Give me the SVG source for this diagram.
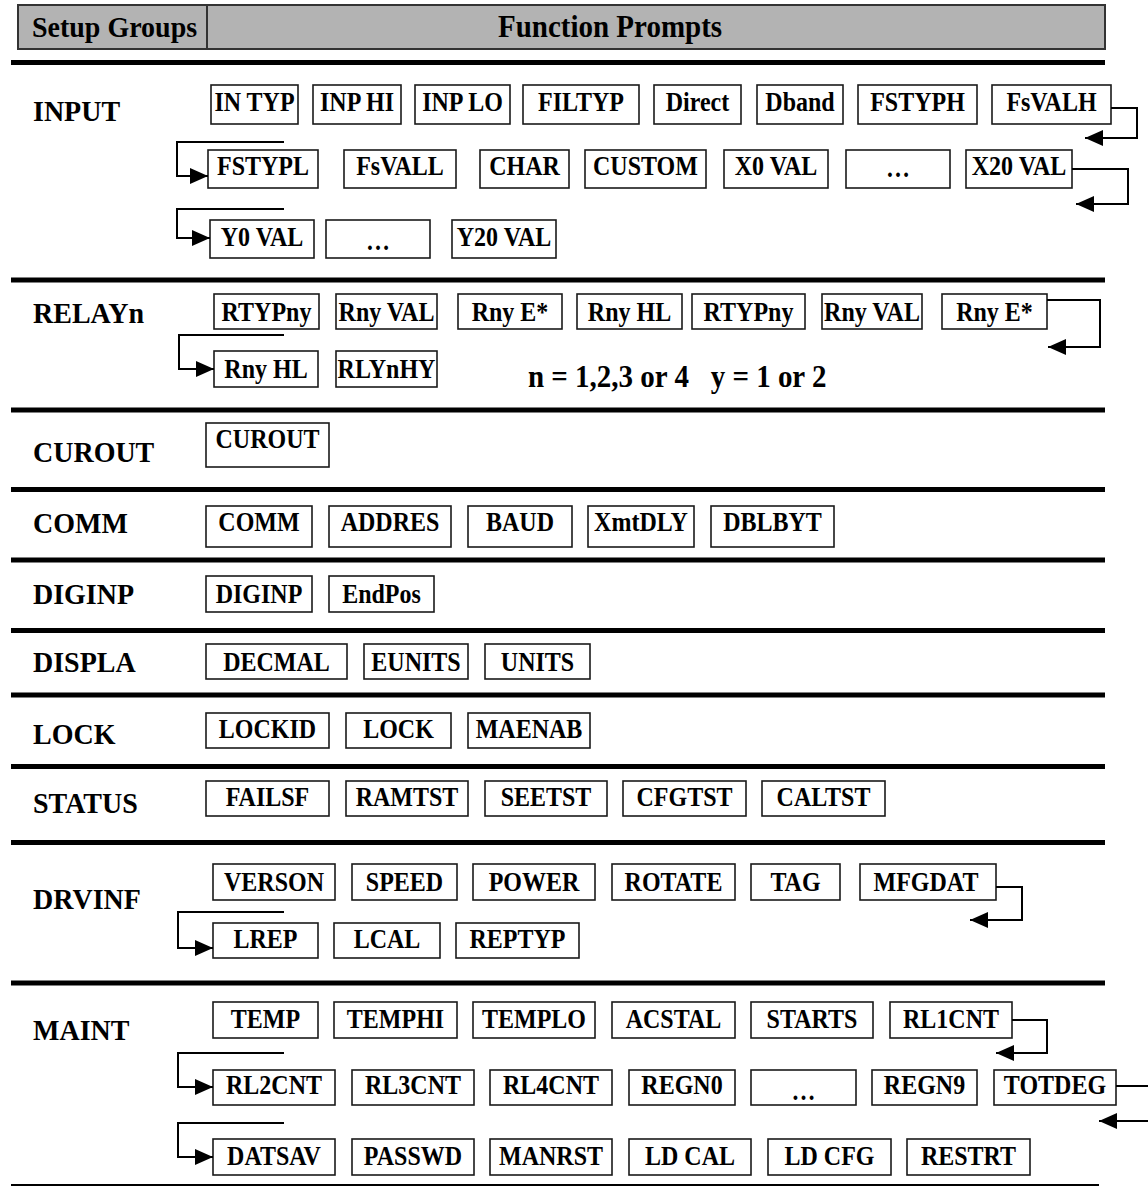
<svg xmlns="http://www.w3.org/2000/svg" width="1148" height="1188" viewBox="0 0 1148 1188">
<style>
.bg{fill:#fff}
.hdr{fill:#b3b3b3;stroke:#333;stroke-width:2}
.box{fill:#fff;stroke:#1a1a1a;stroke-width:1.6}
.bt{font-family:"Liberation Serif","Times New Roman",serif;font-weight:bold;font-size:24px;text-anchor:middle;fill:#000;transform-box:fill-box;transform-origin:50% 50%;transform:scaleY(1.15)}
.gl{font-family:"Liberation Serif","Times New Roman",serif;font-weight:bold;font-size:28px;fill:#000;transform-box:fill-box;transform-origin:50% 50%;transform:scaleY(1.07)}
.sep{stroke:#000;stroke-width:5}
.conn{fill:none;stroke:#000;stroke-width:2}
</style>
<defs>
<marker id="ah" markerUnits="userSpaceOnUse" markerWidth="18" markerHeight="16" refX="18" refY="8" orient="auto">
<path d="M0,0 L18,8 L0,16 Z" fill="#000"/>
</marker>
</defs>
<rect class="bg" x="0" y="0" width="1148" height="1188"/>

<g id="header">
<rect class="hdr" x="18" y="5" width="1087" height="44"/>
<line x1="207" y1="5" x2="207" y2="49" stroke="#333" stroke-width="2"/>
<text class="gl" x="32" y="36">Setup Groups</text>
<text class="gl" x="498" y="36" style="font-size:29px">Function Prompts</text>
</g>

<g id="separators">
<line class="sep" x1="11" y1="62.5" x2="1105" y2="62.5"/>
<line class="sep" x1="11" y1="280" x2="1105" y2="280"/>
<line class="sep" x1="11" y1="410" x2="1105" y2="410"/>
<line class="sep" x1="11" y1="489.5" x2="1105" y2="489.5"/>
<line class="sep" x1="11" y1="560" x2="1105" y2="560"/>
<line class="sep" x1="11" y1="630.5" x2="1105" y2="630.5"/>
<line class="sep" x1="11" y1="695" x2="1105" y2="695"/>
<line class="sep" x1="11" y1="766.5" x2="1105" y2="766.5"/>
<line class="sep" x1="11" y1="842.5" x2="1105" y2="842.5"/>
<line class="sep" x1="11" y1="983" x2="1105" y2="983"/>
<line x1="11" y1="1185" x2="1099" y2="1185" stroke="#000" stroke-width="2"/>
</g>

<g id="group-labels">
<text class="gl" x="33" y="120">INPUT</text>
<text class="gl" x="33" y="322">RELAYn</text>
<text class="gl" x="33" y="461">CUROUT</text>
<text class="gl" x="33" y="532">COMM</text>
<text class="gl" x="33" y="603">DIGINP</text>
<text class="gl" x="33" y="671">DISPLA</text>
<text class="gl" x="33" y="743">LOCK</text>
<text class="gl" x="33" y="812">STATUS</text>
<text class="gl" x="33" y="908">DRVINF</text>
<text class="gl" x="33" y="1039">MAINT</text>
</g>

<text id="note" class="gl" x="528" y="386" style="white-space:pre;font-size:29px">n = 1,2,3 or 4   y = 1 or 2</text>

<!-- INPUT -->
<g id="n-intyp"><rect class="box" x="211" y="85" width="87" height="39"/><text class="bt" x="254.5" y="110">IN TYP</text></g>
<g id="n-inphi"><rect class="box" x="313" y="85" width="88" height="39"/><text class="bt" x="357" y="110">INP HI</text></g>
<g id="n-inplo"><rect class="box" x="415" y="85" width="95" height="39"/><text class="bt" x="462.5" y="110">INP LO</text></g>
<g id="n-filtyp"><rect class="box" x="523" y="85" width="116" height="39"/><text class="bt" x="581" y="110">FILTYP</text></g>
<g id="n-direct"><rect class="box" x="654" y="85" width="87" height="39"/><text class="bt" x="697.5" y="110">Direct</text></g>
<g id="n-dband"><rect class="box" x="757" y="85" width="86" height="39"/><text class="bt" x="800" y="110">Dband</text></g>
<g id="n-fstyph"><rect class="box" x="858" y="85" width="119" height="39"/><text class="bt" x="917.5" y="110">FSTYPH</text></g>
<g id="n-fsvalh"><rect class="box" x="992" y="85" width="119" height="39"/><text class="bt" x="1051.5" y="110">FsVALH</text></g>

<g id="n-fstypl"><rect class="box" x="208" y="150" width="110" height="38"/><text class="bt" x="263" y="174">FSTYPL</text></g>
<g id="n-fsvall"><rect class="box" x="344" y="150" width="112" height="38"/><text class="bt" x="400" y="174">FsVALL</text></g>
<g id="n-char"><rect class="box" x="480" y="150" width="89" height="38"/><text class="bt" x="524.5" y="174">CHAR</text></g>
<g id="n-custom"><rect class="box" x="585" y="150" width="121" height="38"/><text class="bt" x="645.5" y="174">CUSTOM</text></g>
<g id="n-x0val"><rect class="box" x="724" y="150" width="104" height="38"/><text class="bt" x="776" y="174">X0 VAL</text></g>
<g id="n-xdots"><rect class="box" x="846" y="150" width="104" height="38"/><text class="bt" x="898" y="176">…</text></g>
<g id="n-x20val"><rect class="box" x="966" y="150" width="106" height="38"/><text class="bt" x="1019" y="174">X20 VAL</text></g>

<g id="n-y0val"><rect class="box" x="210" y="220" width="104" height="38"/><text class="bt" x="262" y="245">Y0 VAL</text></g>
<g id="n-ydots"><rect class="box" x="326" y="220" width="104" height="38"/><text class="bt" x="378" y="249">…</text></g>
<g id="n-y20val"><rect class="box" x="452" y="220" width="104" height="38"/><text class="bt" x="504" y="245">Y20 VAL</text></g>

<!-- RELAYn -->
<g id="n-rtyp1"><rect class="box" x="214" y="294" width="105" height="35"/><text class="bt" x="266.5" y="320">RTYPny</text></g>
<g id="n-rval1"><rect class="box" x="336" y="294" width="101" height="35"/><text class="bt" x="386.5" y="320">Rny VAL</text></g>
<g id="n-re1"><rect class="box" x="458" y="294" width="104" height="35"/><text class="bt" x="510" y="320">Rny E*</text></g>
<g id="n-rhl1"><rect class="box" x="577" y="294" width="105" height="35"/><text class="bt" x="629.5" y="320">Rny HL</text></g>
<g id="n-rtyp2"><rect class="box" x="692" y="294" width="113" height="35"/><text class="bt" x="748.5" y="320">RTYPny</text></g>
<g id="n-rval2"><rect class="box" x="822" y="294" width="100" height="35"/><text class="bt" x="872" y="320">Rny VAL</text></g>
<g id="n-re2"><rect class="box" x="942" y="294" width="105" height="35"/><text class="bt" x="994.5" y="320">Rny E*</text></g>
<g id="n-rhl2"><rect class="box" x="214" y="351" width="104" height="36"/><text class="bt" x="266" y="377">Rny HL</text></g>
<g id="n-rlynhy"><rect class="box" x="336" y="351" width="101" height="36"/><text class="bt" x="386.5" y="377">RLYnHY</text></g>

<!-- CUROUT -->
<g id="n-curout"><rect class="box" x="206" y="423" width="123" height="44"/><text class="bt" x="267.5" y="447">CUROUT</text></g>

<!-- COMM -->
<g id="n-comm"><rect class="box" x="206" y="506" width="106" height="41"/><text class="bt" x="259" y="530">COMM</text></g>
<g id="n-addres"><rect class="box" x="329" y="506" width="122" height="41"/><text class="bt" x="390" y="530">ADDRES</text></g>
<g id="n-baud"><rect class="box" x="468" y="506" width="104" height="41"/><text class="bt" x="520" y="530">BAUD</text></g>
<g id="n-xmtdly"><rect class="box" x="588" y="506" width="106" height="41"/><text class="bt" x="641" y="530">XmtDLY</text></g>
<g id="n-dblbyt"><rect class="box" x="711" y="506" width="123" height="41"/><text class="bt" x="772.5" y="530">DBLBYT</text></g>

<!-- DIGINP -->
<g id="n-diginp"><rect class="box" x="206" y="576" width="106" height="36"/><text class="bt" x="259" y="602">DIGINP</text></g>
<g id="n-endpos"><rect class="box" x="329" y="576" width="105" height="36"/><text class="bt" x="381.5" y="602">EndPos</text></g>

<!-- DISPLA -->
<g id="n-decmal"><rect class="box" x="206" y="644" width="141" height="35"/><text class="bt" x="276.5" y="670">DECMAL</text></g>
<g id="n-eunits"><rect class="box" x="364" y="644" width="104" height="35"/><text class="bt" x="416" y="670">EUNITS</text></g>
<g id="n-units"><rect class="box" x="485" y="644" width="105" height="35"/><text class="bt" x="537.5" y="670">UNITS</text></g>

<!-- LOCK -->
<g id="n-lockid"><rect class="box" x="206" y="713" width="123" height="35"/><text class="bt" x="267.5" y="737">LOCKID</text></g>
<g id="n-lock"><rect class="box" x="346" y="713" width="105" height="35"/><text class="bt" x="398.5" y="737">LOCK</text></g>
<g id="n-maenab"><rect class="box" x="468" y="713" width="122" height="35"/><text class="bt" x="529" y="737">MAENAB</text></g>

<!-- STATUS -->
<g id="n-failsf"><rect class="box" x="206" y="781" width="123" height="35"/><text class="bt" x="267.5" y="805">FAILSF</text></g>
<g id="n-ramtst"><rect class="box" x="346" y="781" width="122" height="35"/><text class="bt" x="407" y="805">RAMTST</text></g>
<g id="n-seetst"><rect class="box" x="485" y="781" width="122" height="35"/><text class="bt" x="546" y="805">SEETST</text></g>
<g id="n-cfgtst"><rect class="box" x="623" y="781" width="123" height="35"/><text class="bt" x="684.5" y="805">CFGTST</text></g>
<g id="n-caltst"><rect class="box" x="762" y="781" width="123" height="35"/><text class="bt" x="823.5" y="805">CALTST</text></g>

<!-- DRVINF -->
<g id="n-verson"><rect class="box" x="213" y="864" width="122" height="36"/><text class="bt" x="274" y="890">VERSON</text></g>
<g id="n-speed"><rect class="box" x="352" y="864" width="105" height="36"/><text class="bt" x="404.5" y="890">SPEED</text></g>
<g id="n-power"><rect class="box" x="473" y="864" width="122" height="36"/><text class="bt" x="534" y="890">POWER</text></g>
<g id="n-rotate"><rect class="box" x="612" y="864" width="123" height="36"/><text class="bt" x="673.5" y="890">ROTATE</text></g>
<g id="n-tag"><rect class="box" x="751" y="864" width="89" height="36"/><text class="bt" x="795.5" y="890">TAG</text></g>
<g id="n-mfgdat"><rect class="box" x="860" y="864" width="136" height="36"/><text class="bt" x="926" y="890">MFGDAT</text></g>
<g id="n-lrep"><rect class="box" x="213" y="923" width="105" height="35"/><text class="bt" x="265.5" y="947">LREP</text></g>
<g id="n-lcal"><rect class="box" x="334" y="923" width="106" height="35"/><text class="bt" x="387" y="947">LCAL</text></g>
<g id="n-reptyp"><rect class="box" x="456" y="923" width="123" height="35"/><text class="bt" x="517.5" y="947">REPTYP</text></g>

<!-- MAINT -->
<g id="n-temp"><rect class="box" x="213" y="1002" width="105" height="36"/><text class="bt" x="265.5" y="1027">TEMP</text></g>
<g id="n-temphi"><rect class="box" x="334" y="1002" width="123" height="36"/><text class="bt" x="395.5" y="1027">TEMPHI</text></g>
<g id="n-templo"><rect class="box" x="473" y="1002" width="122" height="36"/><text class="bt" x="534" y="1027">TEMPLO</text></g>
<g id="n-acstal"><rect class="box" x="612" y="1002" width="123" height="36"/><text class="bt" x="673.5" y="1027">ACSTAL</text></g>
<g id="n-starts"><rect class="box" x="751" y="1002" width="122" height="36"/><text class="bt" x="812" y="1027">STARTS</text></g>
<g id="n-rl1cnt"><rect class="box" x="890" y="1002" width="122" height="36"/><text class="bt" x="951" y="1027">RL1CNT</text></g>

<g id="n-rl2cnt"><rect class="box" x="213" y="1070" width="122" height="35"/><text class="bt" x="274" y="1093">RL2CNT</text></g>
<g id="n-rl3cnt"><rect class="box" x="352" y="1070" width="122" height="35"/><text class="bt" x="413" y="1093">RL3CNT</text></g>
<g id="n-rl4cnt"><rect class="box" x="490" y="1070" width="122" height="35"/><text class="bt" x="551" y="1093">RL4CNT</text></g>
<g id="n-regn0"><rect class="box" x="629" y="1070" width="106" height="35"/><text class="bt" x="682" y="1093">REGN0</text></g>
<g id="n-regndots"><rect class="box" x="751" y="1070" width="105" height="35"/><text class="bt" x="803.5" y="1099">…</text></g>
<g id="n-regn9"><rect class="box" x="872" y="1070" width="105" height="35"/><text class="bt" x="924.5" y="1093">REGN9</text></g>
<g id="n-totdeg"><rect class="box" x="994" y="1070" width="122" height="35"/><text class="bt" x="1055" y="1093">TOTDEG</text></g>

<g id="n-datsav"><rect class="box" x="213" y="1139" width="122" height="36"/><text class="bt" x="274" y="1164">DATSAV</text></g>
<g id="n-passwd"><rect class="box" x="352" y="1139" width="122" height="36"/><text class="bt" x="413" y="1164">PASSWD</text></g>
<g id="n-manrst"><rect class="box" x="490" y="1139" width="122" height="36"/><text class="bt" x="551" y="1164">MANRST</text></g>
<g id="n-ldcal"><rect class="box" x="629" y="1139" width="122" height="36"/><text class="bt" x="690" y="1164">LD CAL</text></g>
<g id="n-ldcfg"><rect class="box" x="768" y="1139" width="123" height="36"/><text class="bt" x="829.5" y="1164">LD CFG</text></g>
<g id="n-restrt"><rect class="box" x="907" y="1139" width="123" height="36"/><text class="bt" x="968.5" y="1164">RESTRT</text></g>

<g id="connectors">
<path class="conn" d="M1111,108 H1137 V138 H1085" marker-end="url(#ah)"/>
<path class="conn" d="M284,142 H177 V176 H208" marker-end="url(#ah)"/>
<path class="conn" d="M1072,169 H1128 V204 H1076" marker-end="url(#ah)"/>
<path class="conn" d="M284,209 H177 V238 H210" marker-end="url(#ah)"/>
<path class="conn" d="M1047,300 H1100 V347 H1048" marker-end="url(#ah)"/>
<path class="conn" d="M284,335 H179 V369 H214" marker-end="url(#ah)"/>
<path class="conn" d="M996,887 H1022 V920 H970" marker-end="url(#ah)"/>
<path class="conn" d="M284,912 H178 V948 H213" marker-end="url(#ah)"/>
<path class="conn" d="M1012,1020 H1047 V1053 H996" marker-end="url(#ah)"/>
<path class="conn" d="M284,1053 H178 V1087 H213" marker-end="url(#ah)"/>
<path class="conn" d="M1116,1086 H1150"/>
<path class="conn" d="M1150,1121 H1099" marker-end="url(#ah)"/>
<path class="conn" d="M284,1123 H178 V1157 H213" marker-end="url(#ah)"/>
</g>
</svg>
